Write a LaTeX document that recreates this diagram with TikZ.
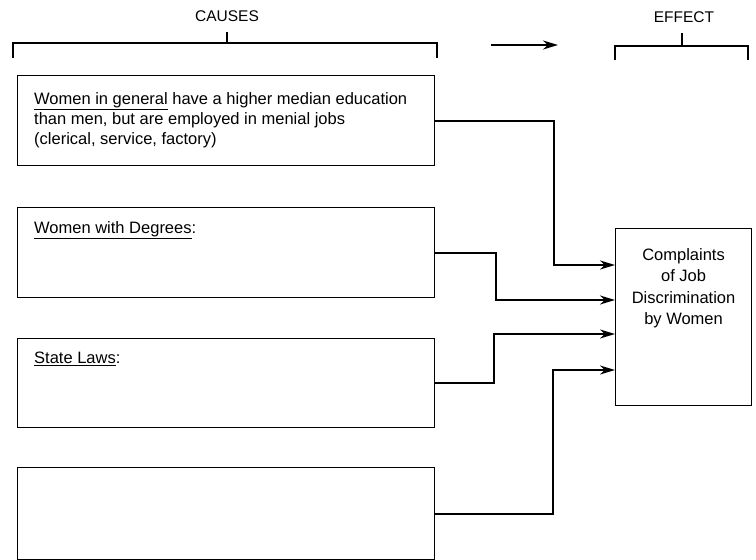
\documentclass[tikz,border=0pt]{standalone}
\usepackage{fontspec}
\setmainfont{Liberation Sans}
\usetikzlibrary{arrows.meta,calc}
\begin{document}
\begin{tikzpicture}[x=1pt,y=-1pt,
  causebox/.style={draw, line width=1.1pt, minimum width=417pt, minimum height=90pt, anchor=north west, inner sep=0pt},
  effectbox/.style={draw, line width=1.1pt, minimum width=136pt, minimum height=177pt, anchor=north west, inner sep=0pt},
  conn/.style={line width=2.1pt, -{Stealth[length=15pt,width=9pt]}},
  bracket/.style={line width=1.2pt},
  head/.style={font=\fontsize{15.5}{18}\selectfont, inner sep=0pt},
  body/.style={font=\fontsize{16.5}{20}\selectfont, align=left, anchor=north west, inner sep=0pt},
]
\useasboundingbox (0,0) rectangle (756,560);

% headings with their brackets
\node[head] (causes) at (227,16) {CAUSES};
\node[head] (effect) at (684,17) {EFFECT};
\draw[bracket] (13,58) -- (13,43) -- (437,43) -- (437,58);
\draw[bracket] (227,43) -- (227,32);
\draw[bracket] (615,60) -- (615,46) -- (748,46) -- (748,60);
\draw[bracket] (682,46) -- (682,33);
\coordinate (ha) at (491,45);
\coordinate (hb) at (558,45);
\draw[conn] (ha) -- (hb);

% cause boxes
\node[causebox] (c1) at (17,75) {};
\node[causebox] (c2) at (17,207) {};
\node[causebox, minimum height=89pt] (c3) at (17,338) {};
\node[causebox, minimum height=92pt] (c4) at (17,467) {};

\node[body] (t1) at (34,92) {\underline{Women in general} have a higher median education\\than men, but are employed in menial jobs\\(clerical, service, factory)};
\node[body] (t2) at (34,221) {\underline{Women with Degrees}:};
\node[body] (t3) at (34,352) {\underline{State Laws}:};

% effect box
\node[effectbox] (e) at (615,228) {};
\node[font=\fontsize{16.5}{21.5}\selectfont, align=center, inner sep=0pt] (et) at ($(e.north)+(0,60)$) {Complaints\\of Job\\Discrimination\\by Women};

% connectors
\draw[conn] (c1.east) -- ++(119,0) |- ($(e.north west)+(0,37)$);
\draw[conn] (c2.east) -- ++(61,0) |- ($(e.north west)+(0,72)$);
\draw[conn] (c3.east) -- ++(59,0) |- ($(e.north west)+(0,106)$);
\draw[conn] (c4.east) -- ++(118,0) |- ($(e.north west)+(0,142)$);
\end{tikzpicture}
\end{document}
